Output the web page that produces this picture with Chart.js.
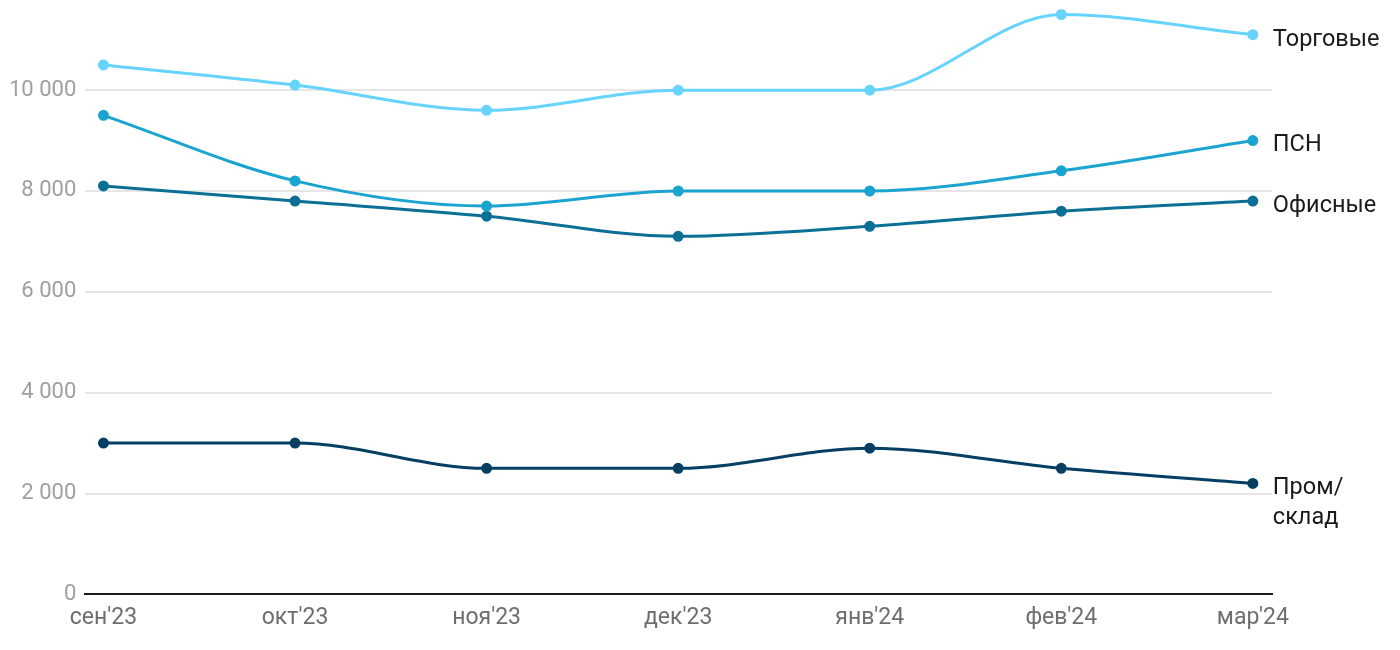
<!DOCTYPE html>
<html>
<head>
<meta charset="utf-8">
<script src="https://cdn.jsdelivr.net/npm/chart.js@4"></script>
<style>
  html, body { margin: 0; padding: 0; background: #fff; }
  #wrap { width: 1400px; height: 650px; }
</style>
</head>
<body>
<div id="wrap"><canvas id="MyChart"></canvas></div>
<script>
const months = ["сен'23", "окт'23", "ноя'23", "дек'23", "янв'24", "фев'24", "мар'24"];
const torg = [10500, 10100, 9600, 10000, 10000, 11500, 11100];
const psn = [9500, 8200, 7700, 8000, 8000, 8400, 9000];
const office = [8100, 7800, 7500, 7100, 7300, 7600, 7800];
const sklad = [3000, 3000, 2500, 2500, 2900, 2500, 2200];
const names = [["Торговые"], ["ПСН"], ["Офисные"], ["Пром/", "склад"]];
const colors = ["#66d4fc", "#1ca4d0", "#0b6f96", "#063f63"];
const yTicks = [0, 2000, 4000, 6000, 8000, 10000];

function toPoints(arr) {
  return arr.map((v, i) => ({ x: i, y: v }));
}

const seriesList = [torg, psn, office, sklad];
const datasets = seriesList.map((s, i) => ({
  label: names[i].join(" "),
  data: toPoints(s),
  borderColor: colors[i],
  backgroundColor: colors[i],
  borderWidth: 3,
  pointRadius: 4,
  pointHoverRadius: 4,
  cubicInterpolationMode: "monotone",
  fill: false,
  clip: false,
}));

// подписи серий справа от последней точки
const endLabels = {
  id: "endLabels",
  afterDatasetsDraw(chart) {
    const ctx = chart.ctx;
    ctx.save();
    ctx.font = "23.5px Roboto";
    ctx.fillStyle = "#1a1a1a";
    ctx.textAlign = "left";
    ctx.textBaseline = "middle";
    chart.data.datasets.forEach((ds, i) => {
      const meta = chart.getDatasetMeta(i);
      const pt = meta.data[meta.data.length - 1];
      names[i].forEach((line, j) => {
        ctx.fillText(line, pt.x + 20, pt.y + 5 + j * 30);
      });
    });
    ctx.restore();
  },
};

new Chart(document.getElementById("MyChart"), {
  type: "line",
  data: { datasets: datasets },
  options: {
    responsive: true,
    maintainAspectRatio: false,
    animation: false,
    layout: { padding: { top: 12, right: 128, bottom: 8, left: 0 } },
    plugins: { legend: { display: false }, tooltip: { enabled: false } },
    scales: {
      x: {
        type: "linear",
        min: -0.095,
        max: 6.1,
        afterBuildTicks: (axis) => {
          axis.ticks = months.map((m, i) => ({ value: i }));
        },
        ticks: {
          callback: (v) => months[v],
          color: "#6e6e6e",
          font: { family: "Roboto", size: 23 },
          padding: 10,
          maxRotation: 0,
          autoSkip: false,
        },
        grid: { display: false, drawTicks: false },
        border: { display: true, color: "#1a1a1a", width: 2 },
      },
      y: {
        min: 0,
        max: 11500,
        afterBuildTicks: (axis) => {
          axis.ticks = yTicks.map((v) => ({ value: v }));
        },
        ticks: {
          callback: (v) => String(v).replace(/\B(?=(\d{3})+(?!\d))/g, " "),
          color: "#a0a0a0",
          font: { family: "Roboto", size: 22, lineHeight: 0.5 },
          padding: 9,
        },
        grid: {
          color: (c) => (c.tick && c.tick.value === 0 ? "rgba(0,0,0,0)" : "#e6e6e6"),
          lineWidth: 2,
          drawTicks: false,
        },
        border: { display: false },
      },
    },
  },
  plugins: [endLabels],
});
</script>
</body>
</html>
